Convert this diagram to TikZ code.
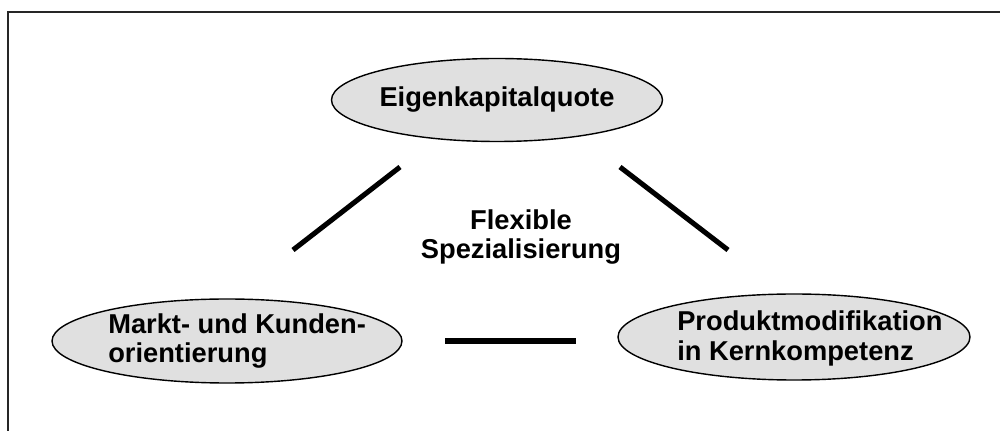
\documentclass[tikz,border=0pt]{standalone}
\usepackage{fontspec}
\setmainfont{Liberation Sans}
\usetikzlibrary{shapes.geometric}

\definecolor{ovalgray}{RGB}{224,224,224}

\tikzset{
  oval/.style={ellipse, draw=black, line width=1pt, fill=ovalgray, inner sep=0pt},
  ovaltext/.style={inner sep=0pt, font=\fontsize{19.4}{21.3}\selectfont\bfseries},
  bar/.style={line width=3.6pt},
  frameline/.style={line width=1.5pt, draw=black!85}
}

\begin{document}
\begin{tikzpicture}[x=0.025cm, y=-0.025cm]
\useasboundingbox (0,0) rectangle (1000,431);
\draw [frameline] (8,431) -- (8,12) -- (1000,12);

\node [oval, minimum width=331*0.025cm, minimum height=83*0.025cm] (kapital) at (497,100) {};
\node [oval, minimum width=350*0.025cm, minimum height=84*0.025cm] (markt) at (227,341) {};
\node [oval, minimum width=352*0.025cm, minimum height=86*0.025cm] (produkt) at (794,337) {};

\node [ovaltext] (kapitaltext) at (kapital) {Eigenkapitalquote};
\node [ovaltext, align=left, anchor=west] (markttext) at (108,341) {Markt- und Kunden-\\orientierung};
\node [ovaltext, align=left, anchor=west] (produkttext) at (677,338) {Produktmodifikation\\in Kernkompetenz};
\node [ovaltext, align=center] (flex) at (521,237) {Flexible\\Spezialisierung};

% Verbindungsstriche
\coordinate (kl1) at (400,167);
\coordinate (kl2) at (293,250);
\coordinate (kr1) at (620,167);
\coordinate (kr2) at (728,250);
\coordinate (mp1) at (445,341);
\coordinate (mp2) at (576,341);
\draw [bar] (kl1) -- (kl2);
\draw [bar] (kr1) -- (kr2);
\draw [bar] (mp1) -- (mp2);
\end{tikzpicture}
\end{document}
